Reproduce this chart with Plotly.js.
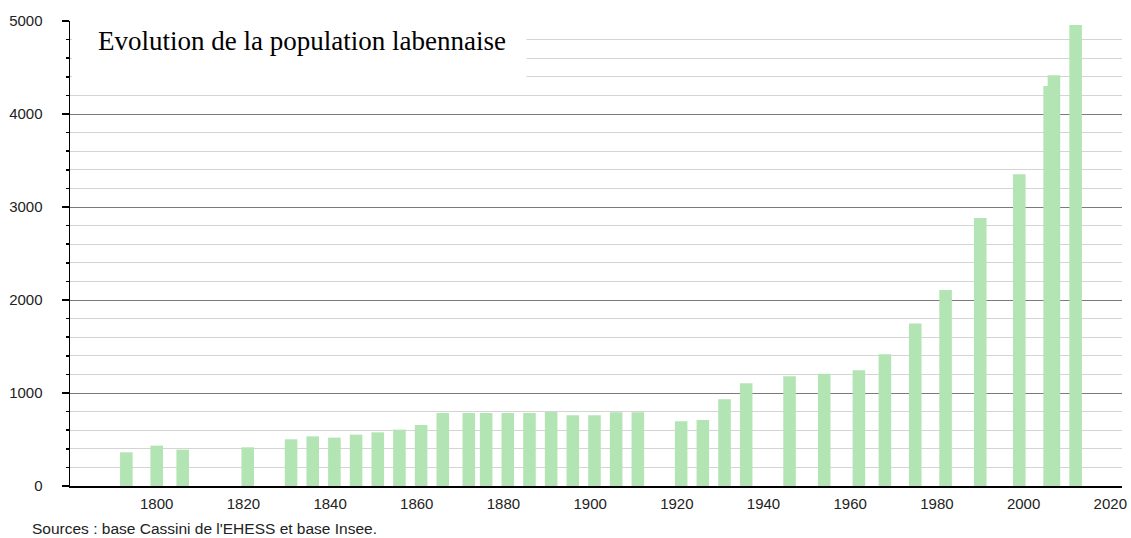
<!DOCTYPE html>
<html>
<head>
<meta charset="utf-8">
<script src="https://cdn.plot.ly/plotly-3.0.1.min.js"></script>
<style>html,body{margin:0;padding:0;background:#fff;}#chart{width:1131px;height:538px;}</style>
</head>
<body>
<div id="chart"></div>
<script>
const years = [1793,1800,1806,1821,1831,1836,1841,1846,1851,1856,1861,1866,1872,1876,1881,1886,1891,1896,1901,1906,1911,1921,1926,1931,1936,1946,1954,1962,1968,1975,1982,1990,1999,2006,2007,2012];
const population = [362,434,391,416,502,534,520,552,577,606,656,785,785,785,785,785,796,760,760,792,792,696,710,932,1104,1180,1208,1244,1416,1746,2108,2882,3352,4301,4416,4957];
const xTicks = [1800,1820,1840,1860,1880,1900,1920,1940,1960,1980,2000,2020];
const yTicks = [0,1000,2000,3000,4000,5000];
const titleText = "Evolution de la population labennaise";
const sourceText = "Sources : base Cassini de l'EHESS et base Insee.";

const trace = {
  type: 'bar',
  x: years,
  y: population,
  width: years.map(() => 2.9),
  marker: {color: '#b3e4b3', line: {width: 0}},
  hoverinfo: 'skip'
};

const tickFont = {family: 'Liberation Sans', size: 15, color: '#222'};

const layout = {
  width: 1131, height: 538,
  margin: {l: 70, r: 9, t: 21, b: 52},
  paper_bgcolor: '#fff', plot_bgcolor: '#fff',
  showlegend: false,
  font: tickFont,
  xaxis: {
    range: [1780, 2022.7],
    tickvals: xTicks,
    ticktext: xTicks.map(String),
    showgrid: false, zeroline: false,
    showline: true, linecolor: '#000', linewidth: 1.5,
    ticks: '', ticklabelstandoff: 3,
    tickfont: tickFont
  },
  yaxis: {
    range: [0, 5000],
    tickvals: yTicks,
    ticktext: yTicks.map(String),
    showgrid: true, gridcolor: '#7a7a7a', gridwidth: 1,
    zeroline: false,
    showline: true, linecolor: '#000', linewidth: 1.5,
    ticks: 'outside', ticklen: 7, tickcolor: '#000', tickwidth: 1.5,
    ticklabelstandoff: 16,
    tickfont: tickFont,
    minor: {dtick: 200, showgrid: true, gridcolor: '#d4d4d4', gridwidth: 1, ticks: 'outside', ticklen: 3, tickcolor: '#000'}
  },
  shapes: [{
    type: 'rect', layer: 'above', xref: 'paper', yref: 'y',
    x0: 0.002, x1: 0.434, y0: 4300, y1: 4985,
    fillcolor: '#fff', line: {width: 0}
  }],
  annotations: [
    {text: titleText, xref: 'paper', yref: 'paper', x: 0.0245, y: 0.956, xanchor: 'left', yanchor: 'middle',
     showarrow: false, font: {family: 'Liberation Serif', size: 27, color: '#000'}},
    {text: sourceText, xref: 'paper', yref: 'paper', x: -0.038, y: -0.092, xanchor: 'left', yanchor: 'middle',
     showarrow: false, font: {family: 'Liberation Sans', size: 15.5, color: '#222'}}
  ],
  hovermode: false
};

Plotly.newPlot('chart', [trace], layout, {displayModeBar: false, staticPlot: true});
</script>
</body>
</html>
